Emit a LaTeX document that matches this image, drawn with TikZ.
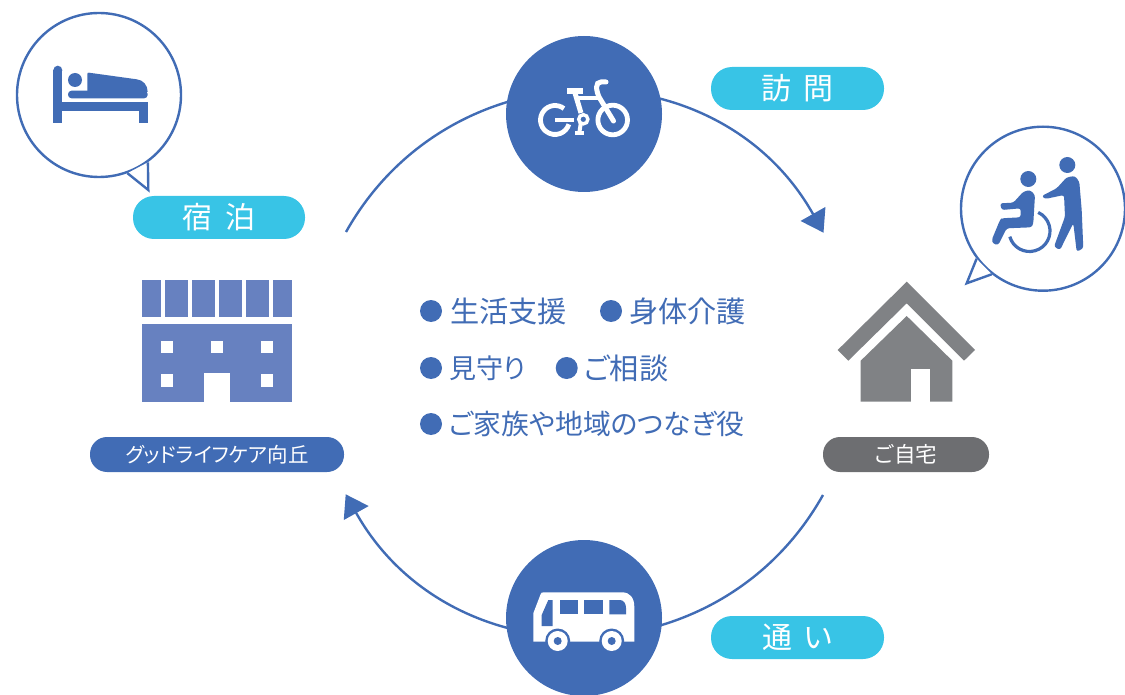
\documentclass[tikz,border=0pt]{standalone}
\usepackage{fontspec}
\setmainfont{Noto Sans CJK JP}[WordSpace=1.8, RawFeature={+palt}]
\usetikzlibrary{arrows.meta}
\definecolor{mainblue}{HTML}{416CB5}
\definecolor{pillcyan}{HTML}{38C4E6}
\definecolor{buildblue}{HTML}{6781C0}
\definecolor{housegrey}{HTML}{808285}
\definecolor{pillgrey}{HTML}{6D6E71}

\begin{document}
\begin{tikzpicture}[x=1pt, y=-1pt,
	bigcircle/.style={circle, fill=mainblue, minimum size=156pt, inner sep=0},
	bubble/.style={circle, draw=mainblue, line width=2.4pt, fill=white, minimum size=164pt, inner sep=0},
	tail/.style={draw=mainblue, line width=2.4pt, fill=white, line join=miter},
	flow/.style={draw=mainblue, line width=2.4pt},
	pill/.style={rounded corners=17pt, text=white, inner sep=0, anchor=center},
	dot/.style={circle, fill=mainblue, minimum size=22pt, inner sep=0},
	item/.style={text=mainblue, anchor=west, inner sep=0, font=\fontsize{29.2}{34}\selectfont},
	icon/.style={fill=mainblue},
	wline/.style={draw=white, line width=4.8pt}]
	\useasboundingbox (0,0) rectangle (1125,695);

	% arcs
	\coordinate (stayend) at (346,232);
	\coordinate (homein) at (823.5,232.7);
	\coordinate (homeout) at (823,495);
	\coordinate (stayin) at (345.7,494.3);
	\draw [flow, arrows={-{Triangle[length=21.5pt,width=28pt]}}] (stayend) .. controls +(105,-187) and +(-105,-187) .. (homein);
	\draw [flow, arrows={-{Triangle[length=21.5pt,width=28pt]}}] (homeout) .. controls +(-105,187) and +(105,187) .. (stayin);

	\node [bigcircle] (bikecircle) at (584,114) {};
	\node [bigcircle] (buscircle) at (584,618) {};

	% bike
	\coordinate (rear) at (555,120);
	\coordinate (front) at (612.7,120);
	\coordinate (crank) at (583.3,119.3);
	\draw [wline] ([shift={(52:14.5pt)}]rear) arc [start angle=52, end angle=343, radius=14.5pt];
	\draw [wline] (front) circle (14.8pt);
	\draw [white, line width=4.6pt] (rear) -- (574,120);
	\fill [white] (567.3,88) rectangle (582.7,93.6);
	\draw [white, line width=5pt] (575,93) -- (581,113);
	\draw [white, line width=4.2pt] (576,98.3) -- (598,98.3);
	\draw [white, line width=5pt, line cap=round] (606,82) -- (601,82) .. controls (595,82) and (596,90) .. (599,97) -- (613.5,121);
	\draw [white, line width=3.4pt] (crank) circle (4.6pt);
	\draw [white, line width=4pt] (580.8,123) -- (579.3,133);
	\draw [white, line width=4pt] (575,133.3) -- (584,133.3);

	% bus
	\fill [white] (533.3,641.7) -- (533.3,613.3) -- (540.7,594) .. controls (541,592.8) and (542,592.3) .. (544,592.3) -- (622,592.3) .. controls (630,592.3) and (634.3,598) .. (634.3,606.7) -- (634.3,641.7) -- cycle;
	\fill [mainblue] (548.3,600) -- (552.7,600) -- (552.7,626) -- (541.7,626) -- (541.7,615) -- cycle;
	\fill [mainblue] (560,600) rectangle (578.3,614.3);
	\fill [mainblue] (584,600) rectangle (602.7,614.3);
	\fill [mainblue] (609.3,600) -- (620,600) .. controls (624,600) and (626,604) .. (626,608) -- (626,614.3) -- (609.3,614.3) -- cycle;
	\foreach \wx in {557.7,611.7} {
		\fill [mainblue] (\wx,641) circle (12.5pt);
		\fill [white] (\wx,641) circle (10pt);
		\fill [mainblue] (\wx,641) circle (4pt);
	}

	% bubbles
	\node [bubble] (bedbubble) at (99,95) {};
	\node [bubble] (carebubble) at (1043,208.7) {};
	\coordinate (bedtip) at (148.3,190);
	\coordinate (caretip) at (966.7,283.3);
	\draw [tail] (bedbubble.-70.6) -- (bedtip) -- (bedbubble.-54.8);
	\draw [tail] (carebubble.217.1) -- (caretip) -- (carebubble.232.7);

	% bed
	\draw [mainblue, line width=9pt] (57.8,122.7) -- (57.8,70.2);
	\fill [icon] (57.8,70.2) circle (4.5pt);
	\fill [icon] (53.3,101.7) rectangle (148,110.7);
	\fill [icon] (139,101.7) rectangle (148,122.7);
	\fill [icon] (75,80) circle (7pt);
	\fill [icon, rounded corners=3.5pt] (68,90.7) rectangle (147.7,98.3);
	\fill [icon] (87.3,92) -- (87.3,74) .. controls (87.3,72.7) and (88,72.7) .. (89,72.7) -- (136.7,79.3) .. controls (143,80) and (147.7,85) .. (147.7,92) -- cycle;

	% care
	\fill [icon] (1067.3,165) circle (8pt);
	\fill [icon] (1028.3,179) circle (8pt);
	\fill [icon, rounded corners=2.5pt] (1041.7,196) -- (1056.7,188.3) -- (1066.7,177.3) -- (1075,176) -- (1079.3,181.7) -- (1081.7,210) -- (1083.3,248.3) -- (1076.7,251.7) -- (1073.3,223.3) -- (1060,250) -- (1054,246.7) -- (1065,216.7) -- (1064,195) -- (1045,199) -- cycle;
	\fill [icon, rounded corners=2.5pt] (1000,203.3) -- (1013.3,202.7) -- (1023.3,191.7) -- (1030,190) -- (1035,195) -- (1033.3,223.3) -- (1031.7,227.3) -- (1006.7,228.3) -- (998.3,245) -- (993.3,244) -- (991.7,240) -- (1000,220) -- (1001.7,218.3) -- (1020.7,217.3) -- (1020.7,208.3) -- (1001.7,210) -- cycle;
	\draw [mainblue, line width=3.2pt] ([shift={(196:20.5pt)}]1029.5,231) arc [start angle=196, end angle=425, radius=20.5pt];

	% building
	\fill [buildblue] (141.7,280) rectangle (161,317);
	\foreach \xa/\xb in {165/188.3, 192/215, 219/242, 246/269, 273/292.3}
		\fill [buildblue] (\xa,280) rectangle (\xb,317);
	\fill [buildblue] (141.7,324) rectangle (292.3,401.7);
	\foreach \xa in {161,211,261.3}
		\fill [white] (\xa,341) rectangle +(11.7,12.3);
	\foreach \xa in {161,261.3}
		\fill [white] (\xa,374) rectangle +(11.7,12.6);
	\fill [white] (203.7,373.3) rectangle (230,401.8);

	% house
	\fill [housegrey] (906.7,281.7) -- (975,350) -- (964,360.7) -- (906.7,303.3) -- (848.3,360.7) -- (837.7,350) -- cycle;
	\fill [housegrey] (906.7,316) -- (952.3,360.7) -- (952.3,401.7) -- (860.7,401.7) -- (860.7,360.7) -- cycle;
	\fill [white] (911.3,369.3) rectangle (930,401.8);

	% pills
	\node [pill, fill=pillcyan, minimum width=172pt, minimum height=43pt, rounded corners=21pt, font=\fontsize{30}{36}\selectfont] (staypill) at (219,217.5) {宿 泊};
	\node [pill, fill=pillcyan, minimum width=173pt, minimum height=43pt, rounded corners=21pt, font=\fontsize{30}{36}\selectfont] (visitpill) at (797.5,88.5) {訪 問};
	\node [pill, fill=pillcyan, minimum width=173pt, minimum height=43pt, rounded corners=21pt, font=\fontsize{30}{36}\selectfont] (daypill) at (797.5,637.5) {通 い};
	\node [pill, fill=mainblue, minimum width=254pt, minimum height=35pt, font=\fontsize{20.5}{24}\selectfont] (facilitypill) at (217,454.5) {グッドライフケア向丘};
	\node [pill, fill=pillgrey, minimum width=166pt, minimum height=35pt, font=\fontsize{21.5}{24}\selectfont] (homepill) at (906,454.5) {ご自宅};

	% list
	\node [dot] (dota) at (431,311) {};
	\node [item] (lifesupport) at (450,311) {生活支援};
	\node [dot] (dotb) at (611,311) {};
	\node [item] (bodycare) at (629,311) {身体介護};
	\node [dot] (dotc) at (431,368) {};
	\node [item, font=\fontsize{27}{32}\selectfont] (watch) at (449,368) {見守り};
	\node [dot] (dotd) at (566.7,368) {};
	\node [item] (consult) at (584,368) {ご相談};
	\node [dot] (dote) at (431,424) {};
	\node [item, font=\fontsize{27.8}{32}\selectfont] (family) at (449,424) {ご家族や地域のつなぎ役};
\end{tikzpicture}
\end{document}
